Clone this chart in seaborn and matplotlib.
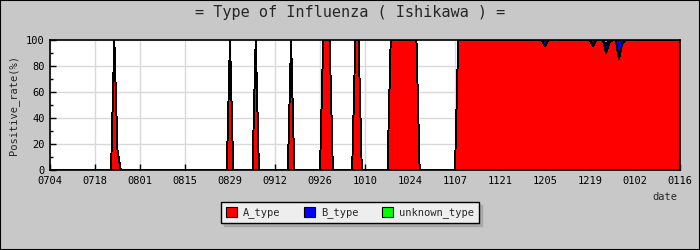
import matplotlib
matplotlib.use("Agg")
import matplotlib.pyplot as plt
import seaborn as sns
import numpy as np
import pandas as pd
from matplotlib.patches import Rectangle, Patch

# ---- data (daily positive rate %, 0704 .. 0116) ----
A_type = [
    0, 0, 0, 0, 0, 0, 0, 0, 0, 0, 0, 0, 0, 0,
    0, 0, 0, 0, 0, 0, 100, 15, 0, 0, 0, 0, 0, 0,
    0, 0, 0, 0, 0, 0, 0, 0, 0, 0, 0, 0, 0, 0,
    0, 0, 0, 0, 0, 0, 0, 0, 0, 0, 0, 0, 0, 0,
    100, 0, 0, 0, 0, 0, 0, 0, 100, 0, 0, 0, 0, 0,
    0, 0, 0, 0, 0, 100, 0, 0, 0, 0, 0, 0, 0, 0,
    0, 100, 100, 100, 0, 0, 0, 0, 0, 0, 0, 100, 100, 0,
    0, 0, 0, 0, 0, 0, 0, 0, 100, 100, 100, 100, 100, 100,
    100, 100, 100, 0, 0, 0, 0, 0, 0, 0, 0, 0, 0, 0,
    0, 100, 100, 100, 100, 100, 100, 100, 100, 100, 100, 100, 100, 100,
    100, 100, 100, 100, 100, 100, 100, 100, 100, 100, 100, 100, 100, 100,
    95, 100, 100, 100, 100, 100, 100, 100, 100, 100, 100, 100, 100, 100,
    100, 95, 100, 100, 100, 90, 98, 100, 100, 85, 97, 100, 100, 100,
    100, 100, 100, 100, 100, 100, 100, 100, 100, 100, 100, 100, 100, 100,
    100,
]
B_type = [
    0, 0, 0, 0, 0, 0, 0, 0, 0, 0, 0, 0, 0, 0,
    0, 0, 0, 0, 0, 0, 0, 0, 0, 0, 0, 0, 0, 0,
    0, 0, 0, 0, 0, 0, 0, 0, 0, 0, 0, 0, 0, 0,
    0, 0, 0, 0, 0, 0, 0, 0, 0, 0, 0, 0, 0, 0,
    0, 0, 0, 0, 0, 0, 0, 0, 0, 0, 0, 0, 0, 0,
    0, 0, 0, 0, 0, 0, 0, 0, 0, 0, 0, 0, 0, 0,
    0, 0, 0, 0, 0, 0, 0, 0, 0, 0, 0, 0, 0, 0,
    0, 0, 0, 0, 0, 0, 0, 0, 0, 0, 0, 0, 0, 0,
    0, 0, 0, 0, 0, 0, 0, 0, 0, 0, 0, 0, 0, 0,
    0, 0, 0, 0, 0, 0, 0, 0, 0, 0, 0, 0, 0, 0,
    0, 0, 0, 0, 0, 0, 0, 0, 0, 0, 0, 0, 0, 0,
    5, 0, 0, 0, 0, 0, 0, 0, 0, 0, 0, 0, 0, 0,
    0, 5, 0, 0, 0, 6, 2, 0, 0, 15, 3, 0, 0, 0,
    0, 0, 0, 0, 0, 0, 0, 0, 0, 0, 0, 0, 0, 0,
    0,
]
unknown_type = [
    0, 0, 0, 0, 0, 0, 0, 0, 0, 0, 0, 0, 0, 0,
    0, 0, 0, 0, 0, 0, 0, 0, 0, 0, 0, 0, 0, 0,
    0, 0, 0, 0, 0, 0, 0, 0, 0, 0, 0, 0, 0, 0,
    0, 0, 0, 0, 0, 0, 0, 0, 0, 0, 0, 0, 0, 0,
    0, 0, 0, 0, 0, 0, 0, 0, 0, 0, 0, 0, 0, 0,
    0, 0, 0, 0, 0, 0, 0, 0, 0, 0, 0, 0, 0, 0,
    0, 0, 0, 0, 0, 0, 0, 0, 0, 0, 0, 0, 0, 0,
    0, 0, 0, 0, 0, 0, 0, 0, 0, 0, 0, 0, 0, 0,
    0, 0, 0, 0, 0, 0, 0, 0, 0, 0, 0, 0, 0, 0,
    0, 0, 0, 0, 0, 0, 0, 0, 0, 0, 0, 0, 0, 0,
    0, 0, 0, 0, 0, 0, 0, 0, 0, 0, 0, 0, 0, 0,
    0, 0, 0, 0, 0, 0, 0, 0, 0, 0, 0, 0, 0, 0,
    0, 0, 0, 0, 0, 4, 0, 0, 0, 0, 0, 0, 0, 0,
    0, 0, 0, 0, 0, 0, 0, 0, 0, 0, 0, 0, 0, 0,
    0,
]
tick_labels = ["0704", "0718", "0801", "0815", "0829", "0912", "0926", "1010",
               "1024", "1107", "1121", "1205", "1219", "0102", "0116"]
series_names = ["A_type", "B_type", "unknown_type"]
series_colors = ["#ff0000", "#0000ff", "#00ff00"]

dates = pd.date_range("2010-07-04", "2011-01-16", freq="D")
day = np.arange(len(dates))
df = pd.DataFrame({"day": day, "A_type": A_type, "B_type": B_type,
                   "unknown_type": unknown_type})

sns.set_theme(style="white")
mono = "DejaVu Sans Mono"
plt.rcParams["font.family"] = [mono, "DejaVu Sans"]

BG = "#c8c8c8"
fig = plt.figure(figsize=(7, 2.5), dpi=100, facecolor=BG)
ax = fig.add_axes([50 / 700, 80 / 250, 630 / 700, 130 / 250])
ax.set_facecolor("white")

polys = ax.stackplot(df["day"], df["A_type"], df["B_type"], df["unknown_type"],
                     colors=series_colors, edgecolor="none", linewidth=0, zorder=2)
for p in polys:
    p.set_antialiased(False)
# outlines of each layer boundary
cumA = df["A_type"]
cumB = cumA + df["B_type"]
cumU = cumB + df["unknown_type"]
for c in (cumA, cumB, cumU):
    sns.lineplot(x=df["day"], y=c, ax=ax, color="black", linewidth=0.7,
                 zorder=3, antialiased=False)

ax.set_xlim(0, len(day) - 1)
ax.set_ylim(0, 100)

tick_pos = [dates.get_loc(pd.Timestamp(d)) for d in
            pd.to_datetime([("2010" if t[:2] >= "07" else "2011") + t for t in tick_labels],
                           format="%Y%m%d")]
ax.set_xticks(tick_pos)
ax.set_xticklabels(tick_labels, fontsize=7.5)
ax.set_yticks(range(0, 101, 20))
ax.set_yticklabels([str(v) for v in range(0, 101, 20)], fontsize=7.5)
ax.set_yticks(range(10, 100, 20), minor=True)

ax.grid(True, which="major", color="#d9d9d9", linewidth=1, zorder=0)
ax.set_axisbelow(True)
ax.tick_params(axis="both", which="major", direction="in", length=4, width=1,
               color="black", pad=4, labelcolor="black")
ax.tick_params(axis="y", which="minor", direction="in", length=2, width=1,
               color="black", left=True)
ax.tick_params(axis="x", bottom=True)
ax.tick_params(axis="y", left=True)
for s in ax.spines.values():
    s.set_visible(True)
    s.set_color("black")
    s.set_linewidth(1.2)
    s.set_zorder(5)

ax.set_xlabel("")
ax.set_ylabel("Positive_rate(%)", fontsize=7.5, labelpad=5)

fig.text(350 / 700, 1 - 13 / 250, "= Type of Influenza ( Ishikawa ) =",
         ha="center", va="center", fontsize=11, family=mono)
fig.text(665 / 700, 1 - 197 / 250, "date", ha="center", va="center", fontsize=7.5)

handles = [Patch(facecolor=c, edgecolor="black", linewidth=0.8) for c in series_colors]
leg = fig.legend(handles, series_names, loc="center", bbox_to_anchor=(350 / 700, 1 - 212.5 / 250),
                 ncol=3, fontsize=7.5, frameon=True, fancybox=False,
                 facecolor="#eeeeee", edgecolor="black", framealpha=1,
                 handlelength=1.1, handleheight=1.1, handletextpad=0.6,
                 columnspacing=2.2, borderpad=0.45,
                 shadow={"color": "#a8a8a8", "alpha": 1})
leg.get_frame().set_linewidth(1)

fig.add_artist(Rectangle((0, 0), 1, 1, transform=fig.transFigure, fill=False,
                         edgecolor="black", linewidth=1.5))

fig.savefig("out.png", dpi=100, facecolor=BG)
